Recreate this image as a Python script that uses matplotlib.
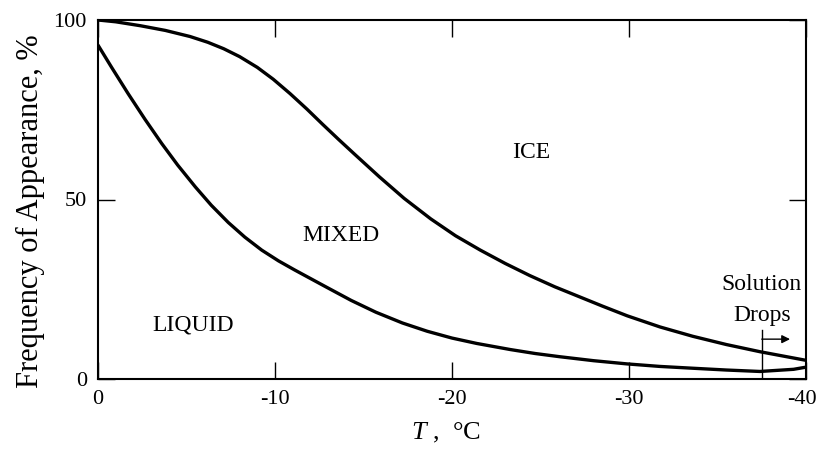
import matplotlib
matplotlib.use("Agg")
import matplotlib.pyplot as plt
from matplotlib.transforms import ScaledTranslation

plt.rcParams['font.family'] = ['Liberation Serif', 'DejaVu Serif']
plt.rcParams['mathtext.fontset'] = 'custom'
plt.rcParams['mathtext.rm'] = 'Liberation Serif'
plt.rcParams['mathtext.it'] = 'Liberation Serif:italic'

# Data
ice_T = [0, -1, -2.4, -3.8, -5.2, -6.2, -7.1, -8.0, -9.0, -9.9, -10.85, -11.8,
         -12.7, -13.6, -14.5, -15.9, -17.3, -18.8, -20.2, -21.6, -23.0, -24.4,
         -25.8, -27.2, -28.5, -29.9, -31.75, -33.6, -35.5, -37.4, -38.7, -40]
ice_y = [100, 99.5, 98.4, 97.1, 95.4, 93.8, 92.0, 89.8, 86.8, 83.5, 79.5, 75.2,
         70.9, 66.7, 62.6, 56.3, 50.3, 44.6, 39.9, 35.9, 32.2, 28.8,
         25.7, 22.9, 20.3, 17.6, 14.5, 11.9, 9.6, 7.6, 6.4, 5.2]

liq_T = [0, -0.77, -1.7, -2.66, -3.6, -4.5, -5.5, -6.4, -7.36, -8.3, -9.25,
         -10.2, -11.1, -12.0, -12.9, -14.3, -15.7, -17.2, -18.6, -20.0, -21.4,
         -23.3, -24.7, -26.1, -28.0, -29.9, -31.75, -33.6, -35.5, -37.4, -39.3, -40]
liq_y = [93, 86.8, 79.5, 72.3, 65.6, 59.6, 53.5, 48.4, 43.6, 39.5, 35.9,
         32.9, 30.4, 28.0, 25.6, 21.9, 18.6, 15.6, 13.3, 11.4, 9.9,
         8.2, 7.1, 6.2, 5.1, 4.2, 3.5, 3.0, 2.5, 2.1, 2.7, 3.3]

x_ticks = [0, -10, -20, -30, -40]
x_ticklabels = ['0', '-10', '-20', '-30', '-40']
y_ticks = [0, 50, 100]
y_ticklabels = ['0', '50', '100']

regions = ['ICE', 'MIXED', 'LIQUID']
region_T = [-24.5, -13.7, -5.4]
region_y = [63.2, 40.1, 15.0]

solution_T = -37.5
solution_top = 13.6
arrow_y = 11.1
arrow_end_T = -39.1

W, H = 820, 450
fig = plt.figure(figsize=(W / 100, H / 100), dpi=100)
ax = fig.add_axes([98 / W, (H - 379) / H, 708 / W, 359 / H])

ax.plot(ice_T, ice_y, color='black', lw=2.4, solid_capstyle='round', solid_joinstyle='round')
ax.plot(liq_T, liq_y, color='black', lw=2.4, solid_capstyle='round', solid_joinstyle='round')

ax.set_xlim(0, -40)
ax.set_ylim(0, 100)

ax.set_xticks(x_ticks)
ax.set_xticklabels(x_ticklabels)
ax.set_yticks(y_ticks)
ax.set_yticklabels(y_ticklabels)
ax.tick_params(direction='in', length=12, width=1.0, labelsize=16, pad=8,
               top=True, right=True, colors='black')

# keep the last x tick label inside the figure, as in the reference
last = ax.get_xticklabels()[-1]
last.set_transform(last.get_transform() + ScaledTranslation(-4 / 100, 0, fig.dpi_scale_trans))

for s in ax.spines.values():
    s.set_linewidth(1.5)

for name, t, y in zip(regions, region_T, region_y):
    ax.text(t, y, name, ha='center', va='center', fontsize=17)

ax.plot([solution_T, solution_T], [0, solution_top], color='black', lw=1.0)
ax.annotate('', xy=(arrow_end_T, arrow_y), xytext=(solution_T, arrow_y),
            arrowprops=dict(arrowstyle='-|>', color='black', lw=1.0,
                            mutation_scale=12, shrinkA=0, shrinkB=0))
ax.text(solution_T, 26.2, 'Solution', ha='center', va='center', fontsize=17)
ax.text(solution_T, 17.8, 'Drops', ha='center', va='center', fontsize=17)

fig.text(446 / W, (H - 433) / H, r'$T$ ,  °C', ha='center', va='center', fontsize=19)
fig.text(30 / W, (H - 211) / H, 'Frequency of Appearance, %', ha='center', va='center',
         rotation=90, fontsize=22)

fig.savefig('out.png', dpi=100)
